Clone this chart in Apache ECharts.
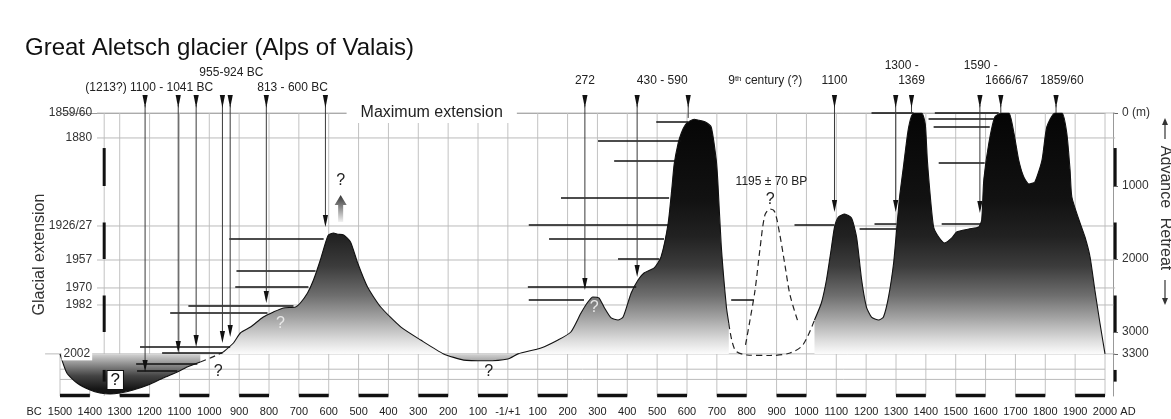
<!DOCTYPE html>
<html><head><meta charset="utf-8">
<script src="https://cdn.jsdelivr.net/npm/echarts@6/dist/echarts.min.js"></script>
<style>html,body{margin:0;padding:0;background:#fff}#c{width:1171px;height:419px}</style>
</head><body><div id="c"></div>
<script>
const FONT = "'Liberation Sans', Arial, Helvetica, sans-serif";

// ---------- axes ----------
const xTickMin = -1500, xTickMax = 2000, xTickStep = 100;   // years (negative = BC)
const retreatMax = 3877;                                    // metres, bottom of plot
const rightTicks = [0, 1000, 2000, 3000, 3300];
const levelLabels = ['1859/60', '1880', '1926/27', '1957', '1970', '1982', '2002'];
const levelMeters = [0, 342, 1548, 2014, 2397, 2630, 3300];
const extraGridMeters = [3510, 3650];

// ---------- glacier profile [year, retreat m] ----------
const troughBC = [[-1500,3300],[-1477,3562],[-1443,3699],[-1399,3795],[-1366,3836],[-1332,3850],[-1299,3836],[-1255,3795],[-1205,3726],[-1154,3630],[-1107,3548],[-1074,3479],[-1030,3411]];
const profileBC = [[-953,3274],[-919,3151],[-896,3014],[-862,2932],[-819,2795],[-785,2726],[-752,2671],[-711,2658],[-695,2603],[-671,2466],[-651,2288],[-628,2014],[-611,1781],[-601,1671],[-584,1644],[-570,1660],[-550,1671],[-527,1767],[-503,2055],[-470,2384],[-426,2658],[-359,2930],[-292,3110],[-215,3300],[-148,3385],[-74,3395],[0,3370],[34,3300],[111,3219],[168,3110],[211,3000],[245,2740],[268,2589],[285,2520],[305,2534],[322,2658],[346,2808],[369,2836],[386,2795],[413,2466],[436,2288],[456,2192],[490,2123],[513,1973],[537,1507],[550,1000],[557,700],[570,420],[581,274],[595,160],[610,110],[624,85],[640,100],[660,120],[681,192],[698,644],[703,918],[715,1836],[732,2658],[740,2880]];
const profileAD = [[1027,2836],[1050,2603],[1067,2288],[1084,1836],[1094,1562],[1107,1425],[1128,1384],[1151,1438],[1168,1699],[1185,2288],[1201,2658],[1218,2795],[1242,2836],[1258,2795],[1275,2520],[1292,2055],[1302,1603],[1312,1151],[1326,700],[1340,250],[1352,40],[1362,0],[1386,0],[1398,150],[1405,644],[1413,1055],[1426,1562],[1443,1699],[1463,1781],[1487,1712],[1503,1630],[1544,1589],[1577,1562],[1587,1466],[1594,918],[1611,411],[1631,55],[1654,0],[1678,0],[1695,274],[1711,644],[1728,877],[1745,973],[1765,945],[1789,644],[1805,192],[1832,0],[1856,0],[1872,274],[1883,781],[1889,1151],[1913,1466],[1933,1699],[1950,1973],[1966,2425],[1983,2877],[2000,3300]];
// hypothetical / uncertain parts (dashed)
const connectorBC = [[-1030,3411],[-990,3345],[-953,3274]];
const gapBottomAD = [[740,2880],[761,3247],[801,3315],[878,3322],[945,3288],[988,3178],[1027,2836]];
const peak9thC = [[796,3178],[811,2836],[828,2425],[844,1877],[861,1397],[878,1315],[894,1356],[911,1671],[928,2082],[945,2493],[973,2877]];

// ---------- black extent lines [fromYear, toYear, retreat m] ----------
const extentLines = [[-933,-617,1726],[-909,-644,2164],[-913,-668,2384],[-1070,-718,2644],[-1131,-805,2740],[-1232,-930,3205],[-1158,-956,3288],[-1245,-1040,3438],[-1242,-1107,3534],
  [178,540,1164],[70,537,1534],[138,523,1726],[369,507,2000],[67,430,2384],[70,255,2562],[748,822,2562],[960,1094,1534],[497,604,123],[302,581,384],[356,570,658],
  [1178,1302,1589],[1228,1302,1521],[1453,1584,1521],[1218,1359,0],[1430,1644,0],[1409,1628,82],[1426,1614,192],[1443,1597,685]];

// ---------- dated advances (arrows) ----------
const arrowYears = [-1215,-1104,-1044,-956,-930,-809,-611,258,433,604,1094,1299,1352,1581,1651,1836];
const arrowEnds  = [3548,3288,3205,3151,3068,2603,1562,2425,2247,68,1356,1356,0,1370,0,0];
const arrowHeads = [1,1,1,1,1,1,1,1,1,0,1,1,0,1,0,0];

const topLabelTexts  = ['(1213?) 1100 - 1041 BC','955-924 BC','813 - 600 BC','272','430 - 590','{n|9}{s|th}{n| century (?)}','1100','1300 -','1369','1590 -','1666/67','1859/60'];
const topLabelYears  = [-1201,-926,-721,258,517,862,1094,1319,1352,1584,1671,1856];
const topLabelMeters = [-342,-548,-342,-438,-438,-438,-438,-644,-438,-644,-438,-438];

// ---------- scale bars ----------
const scaleBarYears = [-1352, 2034];
const scaleBars = [[480,1000],[1500,2000],[2500,3000],[3520,3680]];
const centuryBars = [[-1500,-1400],[-1300,-1200],[-1100,-1000],[-900,-800],[-700,-600],[-500,-400],[-300,-200],[-100,0],[100,200],[300,400],[500,600],[700,800],[900,1000],[1100,1200],[1300,1400],[1500,1600],[1700,1800],[1900,2000]];

// ---------- question marks & notes ----------
const qYears  = [-1315,-970,-762,-64,289,879,-560];
const qMeters = [3658,3548,2890,3548,2671,1192,932];
const qKinds  = ['box','dark','light','dark','light','dark','dark'];
const noteTexts  = ['Maximum extension','1195 ± 70 BP','BC','AD'];
const noteYears  = [-255,883,-1587,2077];
const noteMeters = [0,945,4096,4096];
const upArrow = {year:-560, from:1493, to:1123};

// ---------- shading (retreat m -> grey) ----------
const shadeStops = [[0,'#050505'],[1200,'#121212'],[1700,'#222222'],[2100,'#3c3c3c'],[2500,'#6e6e6e'],[2800,'#a2a2a2'],[3100,'#dadada'],[3298,'#fbfbfb'],[3310,'#cfcfcf'],[3450,'#8a8a8a'],[3600,'#444444'],[3780,'#161616'],[3877,'#111111']];

// ================= build =================
const gridYears = [];
for (let y = xTickMin; y <= xTickMax; y += xTickStep) gridYears.push(y);
const vGrid = gridYears.map(y => [y, y < -1300 ? 3300 : 0, y, retreatMax]).concat([[-1352, 0, -1352, retreatMax]]);
const hGrid = levelMeters.map(m => [m === 3300 ? -1550 : -1376, m, 2034, m]).concat(extraGridMeters.map(m => [-1500, m, 2000, m]));

const mainData = [].concat(troughBC, [[-990, null]], profileBC, [[880, null]], profileAD);
const dashData = [].concat(connectorBC, [[-900, null]], gapBottomAD, [[1030, null]], peak9thC);

function segSeries(name, segs, style, z) {
  return {type:'custom', name, silent:true, z, data:segs, clip:false,
    renderItem:(p, api) => {
      const a = api.coord([api.value(0), api.value(1)]);
      const b = api.coord([api.value(2), api.value(3)]);
      return {type:'line', shape:{x1:a[0], y1:a[1], x2:b[0], y2:b[1]}, style};
    }};
}

const txt = (x, y, text, extra) => Object.assign({type:'text', style:Object.assign({x, y, text, fill:'#222', fontSize:12, fontFamily:FONT, align:'center', verticalAlign:'middle'}, extra || {})});

const option = {
  animation:false,
  backgroundColor:'#ffffff',
  title:{text:'Great Aletsch glacier (Alps of Valais)', left:20, top:31,
    textStyle:{fontSize:24, fontWeight:'normal', color:'#111', fontFamily:FONT}},
  grid:{left:60, right:66, top:113, bottom:23},
  xAxis:{type:'value', min:xTickMin, max:xTickMax, interval:xTickStep,
    axisLine:{show:true, lineStyle:{color:'#9a9a9a', width:1}}, axisTick:{show:false}, splitLine:{show:false},
    axisLabel:{margin:10, fontSize:11, color:'#222', fontFamily:FONT,
      formatter:v => v === 0 ? '-1/+1' : String(Math.abs(v))}},
  yAxis:[
    {type:'value', inverse:true, min:0, max:retreatMax, position:'left',
     name:'Glacial extension', nameLocation:'middle', nameGap:12, nameRotate:90,
     nameTextStyle:{fontSize:16, color:'#333', fontFamily:FONT},
     axisLine:{show:false}, axisTick:{show:false}, axisLabel:{show:false}, splitLine:{show:false}},
    {type:'value', inverse:true, min:0, max:retreatMax, position:'right', offset:8,
     axisLine:{show:true, lineStyle:{color:'#999', width:1}},
     axisTick:{show:true, length:5, customValues:rightTicks, lineStyle:{color:'#666'}},
     axisLabel:{customValues:rightTicks, margin:9, fontSize:12, color:'#333', fontFamily:FONT,
       formatter:v => v === 0 ? '0 (m)' : String(v)},
     splitLine:{show:false}}
  ],
  graphic:[
    {type:'text', x:1165, y:177, rotation:-Math.PI/2, style:{text:'Advance', fontSize:16, fontFamily:FONT, fill:'#333', align:'center', verticalAlign:'middle'}},
    {type:'text', x:1165, y:244, rotation:-Math.PI/2, style:{text:'Retreat', fontSize:16, fontFamily:FONT, fill:'#333', align:'center', verticalAlign:'middle'}},
    {type:'line', shape:{x1:1165, y1:121, x2:1165, y2:139}, style:{stroke:'#333', lineWidth:1.2}},
    {type:'polygon', shape:{points:[[1162,125],[1168,125],[1165,118]]}, style:{fill:'#333'}},
    {type:'line', shape:{x1:1165, y1:280, x2:1165, y2:302}, style:{stroke:'#333', lineWidth:1.2}},
    {type:'polygon', shape:{points:[[1162,298],[1168,298],[1165,305]]}, style:{fill:'#333'}}
  ],
  series:[
    segSeries('vgrid', vGrid, {stroke:'#c2c2c2', lineWidth:1}, 1),
    segSeries('hgrid', hGrid, {stroke:'#bbbbbb', lineWidth:1}, 1),
    {id:'glacier', type:'line', data:mainData, symbol:'none', smooth:0.2, connectNulls:false, z:3,
     lineStyle:{color:'#111', width:1.1}, areaStyle:{origin:3300, color:'#333', opacity:1}},
    {type:'line', data:dashData, symbol:'none', smooth:0.3, connectNulls:false, z:4,
     lineStyle:{color:'#222', width:1.2, type:[6,4]}},
    {type:'custom', name:'extent', silent:true, z:5, clip:false, data:extentLines.map(d => [d[0], d[2], d[1]]),
     renderItem:(p, api) => {
       const a = api.coord([api.value(0), api.value(1)]);
       const b = api.coord([api.value(2), api.value(1)]);
       return {type:'line', shape:{x1:a[0], y1:a[1], x2:b[0], y2:b[1]}, style:{stroke:'#111', lineWidth:1.5}};
     }},
    {type:'custom', name:'arrows', silent:true, z:6, clip:false, data:arrowYears.map((y, i) => [y, arrowEnds[i]]),
     renderItem:(p, api) => {
       const i = p.dataIndex;
       const t = api.coord([api.value(0), 0]);
       const e = api.coord([api.value(0), api.value(1)]);
       const x = t[0], top = t[1];
       const ch = [
         {type:'line', shape:{x1:x, y1:top-8, x2:x, y2:e[1]-(arrowHeads[i] ? 4 : 0)}, style:{stroke:'#3a3a3a', lineWidth:1}},
         {type:'polygon', shape:{points:[[x-2.6, top-18],[x+2.6, top-18],[x, top-5]]}, style:{fill:'#111'}}
       ];
       if (arrowHeads[i]) ch.push({type:'polygon', shape:{points:[[x-2.6, e[1]-12],[x+2.6, e[1]-12],[x, e[1]]]}, style:{fill:'#111'}});
       return {type:'group', children:ch};
     }},
    {type:'custom', name:'scalebars', silent:true, z:6, clip:false,
     data:[].concat(...scaleBarYears.map(y => scaleBars.map(b => [y, b[0], b[1]]))),
     renderItem:(p, api) => {
       const a = api.coord([api.value(0), api.value(1)]);
       const b = api.coord([api.value(0), api.value(2)]);
       return {type:'line', shape:{x1:a[0], y1:a[1], x2:b[0], y2:b[1]}, style:{stroke:'#111', lineWidth:3}};
     }},
    {type:'custom', name:'centuries', silent:true, z:6, clip:false, data:centuryBars.map(b => [b[0], b[1]]),
     renderItem:(p, api) => {
       const a = api.coord([api.value(0), retreatMax]);
       const b = api.coord([api.value(1), retreatMax]);
       return {type:'line', shape:{x1:a[0], y1:a[1]-0.5, x2:b[0], y2:b[1]-0.5}, style:{stroke:'#111', lineWidth:3.5}};
     }},
    {type:'custom', name:'levels', silent:true, z:7, clip:false, data:levelMeters.map(m => [-1352, m]),
     renderItem:(p, api) => {
       const c = api.coord([api.value(0), api.value(1)]);
       const isLast = levelLabels[p.dataIndex] === '2002';
       return txt(c[0] - 12, c[1], levelLabels[p.dataIndex], Object.assign({align:'right', fill:'#333'},
         isLast ? {backgroundColor:'#fff', padding:[1,2,0,2]} : {}));
     }},
    {type:'custom', name:'toplabels', silent:true, z:7, clip:false, data:topLabelYears.map((y, i) => [y, topLabelMeters[i]]),
     renderItem:(p, api) => {
       const c = api.coord([api.value(0), api.value(1)]);
       return txt(c[0], c[1], topLabelTexts[p.dataIndex], {rich:{n:{fontSize:12, fontFamily:FONT, fill:'#222'}, s:{fontSize:8, fontFamily:FONT, fill:'#222', verticalAlign:'top'}}});
     }},
    {type:'custom', name:'notes', silent:true, z:7, clip:false, data:noteYears.map((y, i) => [y, noteMeters[i]]),
     renderItem:(p, api) => {
       const c = api.coord([api.value(0), api.value(1)]);
       const i = p.dataIndex;
       const ex = i === 0 ? {fontSize:16, backgroundColor:'#fff', padding:[2,14]} : (i === 1 ? {fontSize:12} : {fontSize:11});
       return txt(c[0], c[1], noteTexts[i], ex);
     }},
    {type:'custom', name:'qmarks', silent:true, z:8, clip:false, data:qYears.map((y, i) => [y, qMeters[i]]),
     renderItem:(p, api) => {
       const c = api.coord([api.value(0), api.value(1)]);
       const k = qKinds[p.dataIndex];
       const ex = k === 'box' ? {fontSize:17, fill:'#111', backgroundColor:'#fff', borderColor:'#111', borderWidth:1, padding:[1,3,0,3]}
                : k === 'light' ? {fontSize:16, fill:'#e8e8e8'} : {fontSize:16, fill:'#222'};
       return txt(c[0], c[1], '?', ex);
     }},
    {type:'custom', name:'uparrow', silent:true, z:7, clip:false, data:[[upArrow.year, upArrow.from, upArrow.to]],
     renderItem:(p, api) => {
       const a = api.coord([api.value(0), api.value(1)]);
       const b = api.coord([api.value(0), api.value(2)]);
       const x = a[0];
       const grad = new echarts.graphic.LinearGradient(0, 0, 0, 1, [{offset:0, color:'#333'}, {offset:1, color:'#f2f2f2'}]);
       return {type:'polygon', shape:{points:[[x, b[1]],[x+6, b[1]+10],[x+2.5, b[1]+10],[x+2.5, a[1]],[x-2.5, a[1]],[x-2.5, b[1]+10],[x-6, b[1]+10]]}, style:{fill:grad}};
     }}
  ]
};

const chart = echarts.init(document.getElementById('c'), null, {renderer:'canvas'});
chart.setOption(option);
const yTop = chart.convertToPixel({yAxisIndex:0}, 0);
const yBot = chart.convertToPixel({yAxisIndex:0}, retreatMax);
const grad = new echarts.graphic.LinearGradient(0, yTop, 0, yBot,
  shadeStops.map(s => ({offset:s[0] / retreatMax, color:s[1]})), true);
chart.setOption({series:[{id:'glacier', areaStyle:{origin:3300, color:grad, opacity:1}}]});
</script>
</body></html>
